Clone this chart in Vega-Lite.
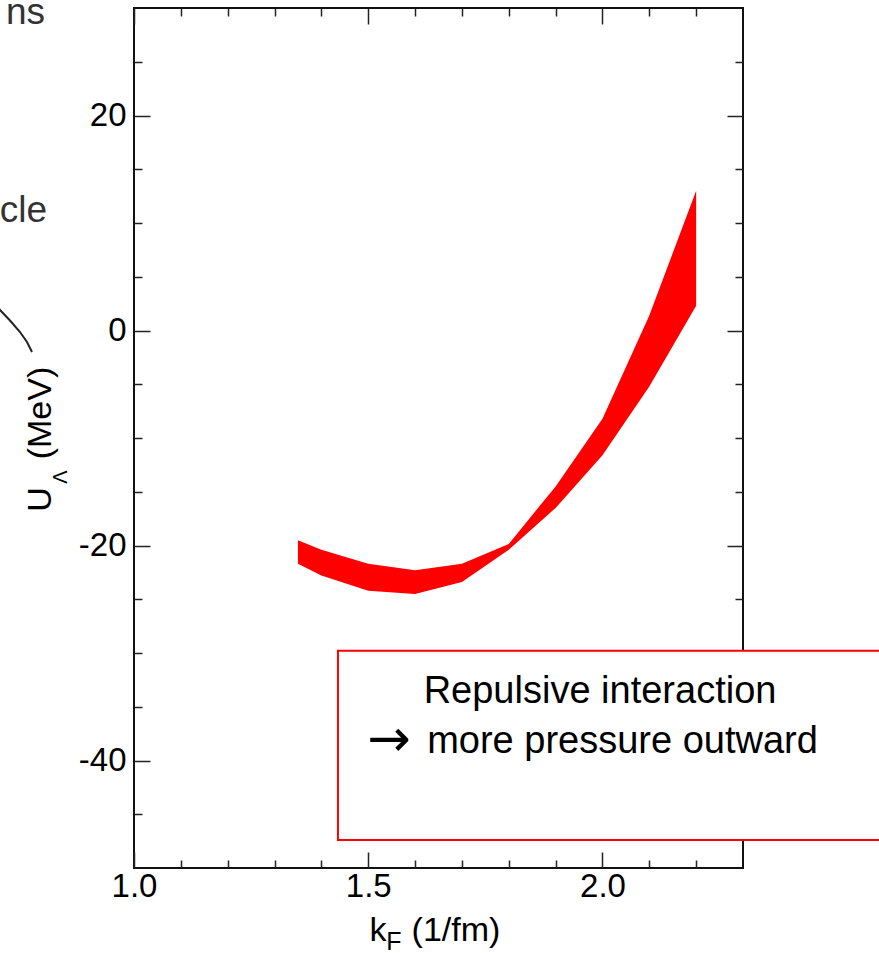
{
  "$schema": "https://vega.github.io/schema/vega-lite/v6.json",
  "width": 609,
  "height": 860,
  "autosize": {"type": "none"},
  "padding": {"left": 134, "top": 8, "right": 136, "bottom": 85},
  "background": "white",
  "config": {
    "view": {"stroke": "#111", "strokeWidth": 2},
    "font": "Liberation Sans",
    "axis": {
      "grid": false,
      "domain": false,
      "labelFont": "Liberation Sans",
      "labelFontSize": 33,
      "labelColor": "#000",
      "tickColor": "#222",
      "tickWidth": 1.5,
      "titleFont": "Liberation Sans",
      "titleFontSize": 34,
      "titleFontWeight": "normal",
      "titleColor": "#000"
    }
  },
  "datasets": {
    "band": [
      {"k": 1.35, "lo": -21.7, "hi": -19.5},
      {"k": 1.4, "lo": -22.8, "hi": -20.4},
      {"k": 1.5, "lo": -24.2, "hi": -21.7},
      {"k": 1.6, "lo": -24.5, "hi": -22.3},
      {"k": 1.7, "lo": -23.4, "hi": -21.7},
      {"k": 1.8, "lo": -20.4, "hi": -19.85},
      {"k": 1.9, "lo": -16.5, "hi": -14.5},
      {"k": 2.0, "lo": -11.6, "hi": -8.2},
      {"k": 2.1, "lo": -5.2, "hi": 1.4},
      {"k": 2.2, "lo": 2.3, "hi": 13.0}
    ],
    "notes": [
      {"x": 1.9948, "y": -34.65, "t": "Repulsive interaction"},
      {"x": 2.0428, "y": -39.3, "t": "more pressure outward"}
    ],
    "arrow": [
      {"x": 1.5443, "y": -39.55, "t": "→"}
    ],
    "frag": [
      {"x": 0.81, "y": 28.5, "t": "ns"},
      {"x": 0.8143, "y": 10.09, "t": "cle"}
    ],
    "curve": [
      {"i": 0, "x": 0.7076, "y": 2.28},
      {"i": 1, "x": 0.714, "y": 1.91},
      {"i": 2, "x": 0.7353, "y": 0.93},
      {"i": 3, "x": 0.7567, "y": -0.14},
      {"i": 4, "x": 0.7716, "y": -1.07},
      {"i": 5, "x": 0.7823, "y": -2.0}
    ],
    "box": [
      {"x1": 1.4354, "x2": 2.8, "y1": -29.8, "y2": -47.4}
    ]
  },
  "resolve": {"axis": {"x": "independent", "y": "independent"}},
  "layer": [
    {
      "data": {"name": "band"},
      "mark": {"type": "area", "color": "#ff0000", "opacity": 1},
      "encoding": {
        "x": {
          "field": "k", "type": "quantitative",
          "scale": {"domain": [1.0, 2.3], "nice": false, "zero": false},
          "axis": {"orient": "bottom", "values": [1.0, 1.5, 2.0], "tickSize": -16, "labelPadding": 18, "labelExpr": "format(datum.value, '.1f')", "labelFlush": false, "labelOverlap": false, "title": "(1/fm)", "titleX": 321.5, "titleY": 72, "titleAlign": "center", "titleBaseline": "alphabetic"}
        },
        "y": {
          "field": "lo", "type": "quantitative",
          "scale": {"domain": [-50, 30], "nice": false, "zero": false},
          "axis": {"orient": "left", "values": [-40, -20, 0, 20], "tickSize": -16, "labelPadding": 24, "labelExpr": "'' + datum.value", "labelFlush": false, "labelOverlap": false, "title": "(MeV)", "titleX": -84, "titleY": 404.5, "titleAngle": -90, "titleAlign": "center", "titleBaseline": "alphabetic"}
        },
        "y2": {"field": "hi"}
      }
    },
    {
      "mark": {"type": "rule", "color": "#000", "strokeWidth": 1.5},
      "encoding": {
        "y": {"datum": 0, "type": "quantitative", "axis": null}
      }
    },
    {
      "data": {"name": "box"},
      "mark": {"type": "rect", "fill": "white", "stroke": "#ff0000", "strokeWidth": 2},
      "encoding": {
        "x": {"field": "x1", "type": "quantitative",
          "axis": {"orient": "bottom", "ticks": false, "labels": false, "title": "F", "titleFontSize": 25, "titleX": 259.5, "titleY": 81, "titleAlign": "center", "titleBaseline": "alphabetic"}},
        "x2": {"field": "x2"},
        "y": {"field": "y1", "type": "quantitative",
          "axis": {"orient": "left", "ticks": false, "labels": false, "title": "Λ", "titleFontSize": 20, "titleX": -68, "titleY": 468.5, "titleAngle": -90, "titleAlign": "center", "titleBaseline": "alphabetic"}},
        "y2": {"field": "y2"}
      }
    },
    {
      "data": {"name": "notes"},
      "mark": {"type": "text", "align": "center", "baseline": "alphabetic", "fontSize": 38, "font": "Liberation Sans", "color": "#000"},
      "encoding": {
        "x": {"field": "x", "type": "quantitative",
          "axis": {"orient": "bottom", "values": [1.1, 1.2, 1.3, 1.4, 1.6, 1.7, 1.8, 1.9, 2.1, 2.2], "tickSize": -8, "labels": false, "title": "k", "titleX": 243.5, "titleY": 72, "titleAlign": "center", "titleBaseline": "alphabetic"}},
        "y": {"field": "y", "type": "quantitative",
          "axis": {"orient": "left", "values": [-45, -35, -30, -25, -15, -10, -5, 5, 10, 15, 25], "tickSize": -8, "labels": false, "title": "U", "titleX": -84, "titleY": 491, "titleAngle": -90, "titleAlign": "center", "titleBaseline": "alphabetic"}},
        "text": {"field": "t"}
      }
    },
    {
      "data": {"name": "arrow"},
      "mark": {"type": "text", "align": "center", "baseline": "alphabetic", "fontSize": 52, "font": "DejaVu Sans", "color": "#000"},
      "encoding": {
        "x": {"field": "x", "type": "quantitative", "axis": null},
        "y": {"field": "y", "type": "quantitative", "axis": null},
        "text": {"field": "t"}
      }
    },
    {
      "data": {"name": "frag"},
      "mark": {"type": "text", "align": "right", "baseline": "alphabetic", "fontSize": 37, "font": "Liberation Sans", "color": "#333"},
      "encoding": {
        "x": {"field": "x", "type": "quantitative",
          "axis": {"orient": "top", "values": [1.0, 1.5, 2.0], "tickSize": -16, "labels": false, "title": null}},
        "y": {"field": "y", "type": "quantitative",
          "axis": {"orient": "right", "values": [-40, -20, 0, 20], "tickSize": -16, "labels": false, "title": null}},
        "text": {"field": "t"}
      }
    },
    {
      "data": {"name": "curve"},
      "mark": {"type": "line", "color": "#222", "strokeWidth": 2},
      "encoding": {
        "x": {"field": "x", "type": "quantitative",
          "axis": {"orient": "top", "values": [1.1, 1.2, 1.3, 1.4, 1.6, 1.7, 1.8, 1.9, 2.1, 2.2], "tickSize": -8, "labels": false, "title": null}},
        "y": {"field": "y", "type": "quantitative",
          "axis": {"orient": "right", "values": [-45, -35, -30, -25, -15, -10, -5, 5, 10, 15, 25], "tickSize": -8, "labels": false, "title": null}},
        "order": {"field": "i"}
      }
    }
  ]
}
